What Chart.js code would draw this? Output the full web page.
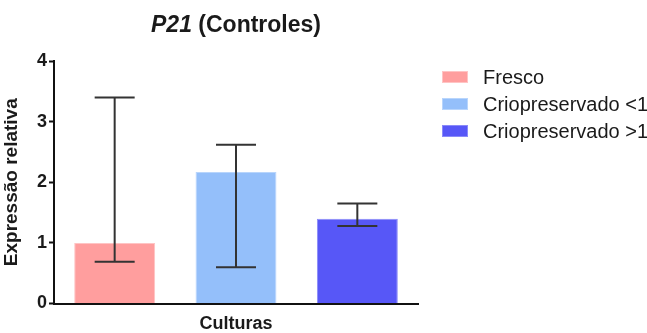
<!DOCTYPE html>
<html>
<head>
<meta charset="utf-8">
<script src="https://cdn.jsdelivr.net/npm/chart.js@4/dist/chart.umd.min.js"></script>
<style>
  html, body { margin: 0; padding: 0; background: #fff; }
  #wrap { width: 647px; height: 333px; position: relative; }
</style>
</head>
<body>
<div id="wrap"><canvas id="c" width="647" height="333"></canvas></div>
<script>
// P21 relative expression by culture group (mean with error range)
const categories = ['Fresco', 'Criopreservado <1', 'Criopreservado >1'];
const means = [1.00, 2.17, 1.40];
const errLow = [0.69, 0.60, 1.28];
const errHigh = [3.40, 2.62, 1.65];
const yTicks = [0, 1, 2, 3, 4];
const barColors = ['#FF9E9E', '#94BFFA', '#5757F7'];
const barEdges = ['#FFC4C4', '#B8D5FC', '#8A8AF9'];

const FONT = '"Liberation Sans", Arial, Helvetica, sans-serif';
const INK = '#1a1a1a';

// Whiskers drawn from the bar positions the library computes
const errorBars = {
  id: 'errorBars',
  afterDatasetsDraw(chart) {
    const ctx = chart.ctx;
    const y = chart.scales.y;
    const meta = chart.getDatasetMeta(0);
    ctx.save();
    ctx.strokeStyle = '#333333';
    ctx.lineWidth = 2;
    meta.data.forEach((bar, i) => {
      const x = bar.x;
      const yTop = y.getPixelForValue(errHigh[i]);
      const yBot = y.getPixelForValue(errLow[i]);
      const half = 20;
      ctx.beginPath();
      ctx.moveTo(x, yTop); ctx.lineTo(x, yBot);
      ctx.moveTo(x - half, yTop); ctx.lineTo(x + half, yTop);
      ctx.moveTo(x - half, yBot); ctx.lineTo(x + half, yBot);
      ctx.stroke();
    });
    ctx.restore();
  }
};

// Title with the gene name in italics
const mixedTitle = {
  id: 'mixedTitle',
  afterDraw(chart) {
    const ctx = chart.ctx;
    ctx.save();
    ctx.fillStyle = INK;
    ctx.textBaseline = 'alphabetic';
    const partA = 'P21';
    const partB = ' (Controles)';
    const fA = 'italic bold 23px ' + FONT;
    const fB = 'bold 23px ' + FONT;
    ctx.font = fA; const wA = ctx.measureText(partA).width;
    ctx.font = fB; const wB = ctx.measureText(partB).width;
    const cx = 236, base = 32;
    let x = cx - (wA + wB) / 2;
    ctx.font = fA; ctx.fillText(partA, x, base);
    ctx.font = fB; ctx.fillText(partB, x + wA, base);
    ctx.restore();
  }
};

// Legend listing the three culture groups
const sideLegend = {
  id: 'sideLegend',
  afterDraw(chart) {
    const ctx = chart.ctx;
    const rows = [77, 104, 131];
    ctx.save();
    ctx.font = '20px ' + FONT;
    ctx.textBaseline = 'middle';
    categories.forEach((name, i) => {
      const cy = rows[i];
      ctx.fillStyle = barColors[i];
      ctx.fillRect(442, cy - 6, 26, 12);
      ctx.strokeStyle = barEdges[i];
      ctx.lineWidth = 1;
      ctx.strokeRect(442.5, cy - 5.5, 25, 11);
      ctx.fillStyle = INK;
      ctx.fillText(name, 483, cy + 1);
    });
    ctx.restore();
  }
};

new Chart(document.getElementById('c'), {
  type: 'bar',
  data: {
    labels: categories,
    datasets: [{
      data: means,
      backgroundColor: barColors,
      borderColor: barEdges,
      borderWidth: 1,
      barPercentage: 0.667,
      categoryPercentage: 1.0
    }]
  },
  options: {
    responsive: false,
    animation: false,
    devicePixelRatio: 1,
    layout: { padding: { top: 61, left: 0, right: 229, bottom: 0 } },
    plugins: {
      legend: { display: false },
      tooltip: { enabled: false },
      title: { display: false }
    },
    scales: {
      x: {
        type: 'category',
        grid: { display: false, drawTicks: false },
        border: { display: true, color: '#111', width: 2 },
        ticks: { display: false },
        title: {
          display: true,
          text: 'Culturas',
          color: INK,
          font: { family: FONT, size: 18, weight: 'bold', lineHeight: 1 },
          padding: { top: 0, bottom: 0 }
        },
        afterFit(scale) { scale.height = 29.5; }
      },
      y: {
        min: 0,
        max: 4,
        afterBuildTicks(scale) { scale.ticks = yTicks.map(v => ({ value: v })); },
        grid: {
          drawOnChartArea: false,
          drawTicks: true,
          tickLength: 5,
          tickWidth: 2,
          tickColor: '#111'
        },
        border: { display: true, color: '#111', width: 2 },
        ticks: {
          color: INK,
          padding: 2,
          font: { family: FONT, size: 18, weight: 'bold' }
        },
        title: {
          display: true,
          text: 'Expressão relativa',
          color: INK,
          font: { family: FONT, size: 19, weight: 'bold', lineHeight: 1.2 },
          padding: { top: 0, bottom: 0 }
        },
        afterFit(scale) { scale.width = 54; }
      }
    }
  },
  plugins: [errorBars, mixedTitle, sideLegend]
});
</script>
</body>
</html>
